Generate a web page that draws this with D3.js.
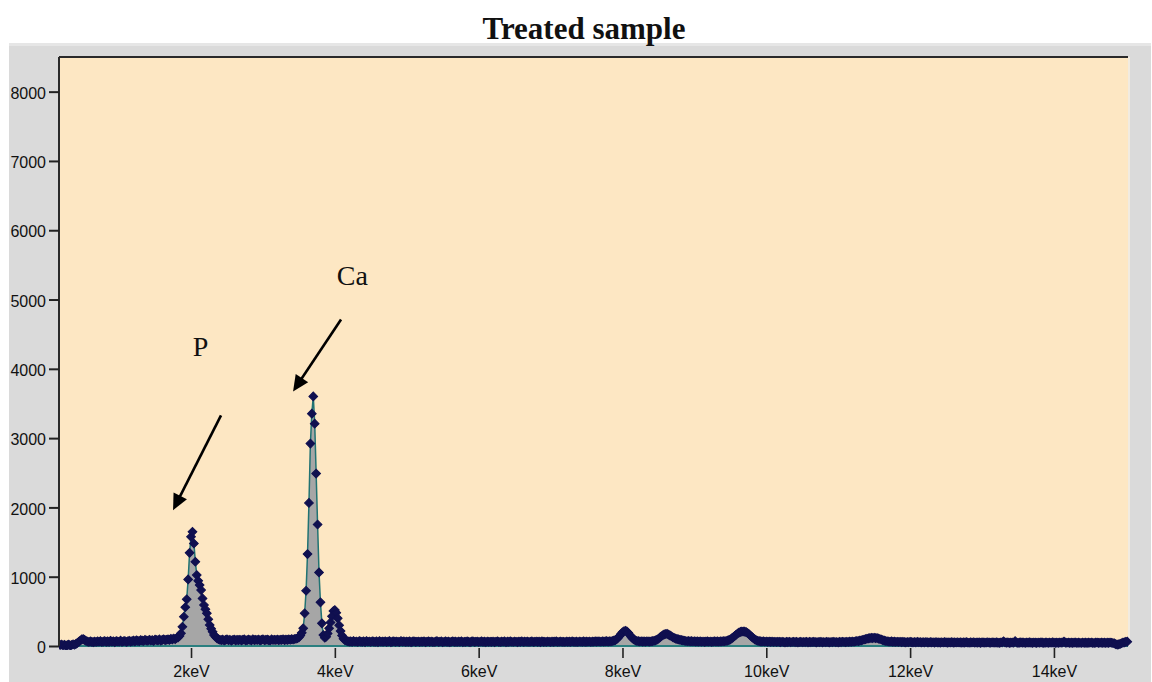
<!DOCTYPE html>
<html><head><meta charset="utf-8">
<script src="https://cdn.jsdelivr.net/npm/d3@7"></script>
<style>html,body{margin:0;padding:0;background:#fff;}svg{display:block;}</style>
</head><body>
<script>
// ---------------- data ----------------
const chartTitle = "Treated sample";
// channel calibration of the spectrum (keV)
const channelStart = 0.18;
const channelWidth = 0.02;
// counts per channel, one row = 25 channels (0.5 keV)
const counts = [
  15,22,10,18,5,12,20,8,15,25,18,30,45,62,80,95,100,88,72,65,58,66,60,55,63,            // 0.18-0.66
  58,66,61,70,57,64,72,60,67,59,74,63,68,56,71,65,62,77,60,69,73,58,66,75,64,           // 0.68-1.16
  70,78,66,82,74,69,85,77,72,88,80,75,90,79,84,73,92,86,81,95,78,89,97,84,91,           // 1.18-1.66
  96,88,102,95,108,100,115,122,145,183,278,422,560,673,961,1344,1575,1647,1480,1215,1023,940,879,807,687, // 1.68-2.16
  591,530,471,385,303,250,206,160,134,112,98,90,85,92,80,88,95,83,90,78,86,93,81,89,84, // 2.18-2.66
  91,82,88,96,79,85,93,87,80,98,84,90,86,94,81,89,97,83,88,92,85,79,95,87,90,           // 2.68-3.16
  86,93,84,91,88,97,85,92,89,96,90,99,94,101,105,112,125,150,190,255,471,797,1326,2065,2921, // 3.18-3.66
  3353,3602,3209,2488,1753,1062,630,327,158,120,135,180,255,340,430,505,519,480,399,300,215,150,105,85,75, // 3.68-4.16
  70,63,67,59,73,62,65,57,71,64,60,68,56,72,61,65,58,69,63,59,66,55,70,62,64,           // 4.18-4.66
  61,67,58,64,70,56,63,68,59,65,61,57,71,62,66,58,64,60,67,55,63,69,59,62,65,           // 4.68-5.16
  58,64,61,67,56,62,68,59,65,60,57,63,70,58,62,66,55,61,67,59,64,56,62,68,60,           // 5.18-5.66
  63,57,65,60,68,56,62,59,66,61,55,64,69,58,62,65,57,61,67,59,63,56,65,60,62,           // 5.68-6.16
  59,65,56,62,68,60,57,64,61,66,55,63,59,67,61,58,65,62,56,64,60,68,57,63,61,           // 6.18-6.66
  64,58,62,66,57,61,65,59,63,56,67,60,62,58,65,61,57,64,59,63,66,58,61,65,60,           // 6.68-7.16
  62,57,65,60,64,58,66,61,59,63,57,65,62,60,67,59,63,61,65,58,64,62,67,63,66,           // 7.18-7.66
  65,61,68,63,66,70,64,69,67,73,77,85,100,120,145,173,197,213,220,211,190,163,135,110,93, // 7.68-8.16
  81,73,70,65,68,63,67,62,69,65,64,68,71,75,81,90,105,123,140,155,167,173,175,165,153,  // 8.18-8.66
  140,127,115,107,100,95,89,85,81,75,72,69,73,67,70,65,68,63,67,62,66,61,65,60,64,      // 8.68-9.16
  67,62,65,60,64,68,63,66,62,67,65,70,68,73,77,85,95,110,127,145,163,180,193,203,208,   // 9.18-9.66
  210,207,200,187,170,150,130,111,95,83,75,70,67,64,68,62,65,60,64,59,63,58,62,57,61,   // 9.68-10.16
  59,55,61,57,53,60,56,62,54,58,61,55,59,53,57,60,54,58,56,61,53,59,55,57,60,           // 10.18-10.66
  56,52,58,55,60,53,57,54,59,56,52,58,55,61,54,57,53,59,56,62,58,55,60,57,63,           // 10.68-11.16
  59,65,61,68,73,70,77,81,87,93,99,105,110,113,117,114,119,113,115,107,101,93,85,78,73, // 11.18-11.66
  69,65,62,67,60,64,58,62,57,61,55,59,56,53,58,54,60,55,52,57,53,59,54,56,51,           // 11.68-12.16
  55,51,57,53,50,56,52,54,49,55,51,53,48,54,50,56,52,49,53,51,55,48,52,50,54,           // 12.18-12.66
  50,53,48,52,49,55,51,47,53,50,54,48,51,49,52,46,53,50,48,51,54,49,47,52,50,           // 12.68-13.16
  48,52,49,46,51,53,67,50,48,52,45,49,51,47,70,50,46,49,52,48,51,45,50,48,53,           // 13.18-13.66
  49,46,51,48,45,50,47,52,48,45,49,51,46,50,47,53,48,45,49,46,51,48,50,63,49,           // 13.68-14.16
  47,50,45,49,46,48,51,45,49,47,44,50,46,48,45,49,47,51,46,44,48,50,45,47,49,           // 14.18-14.66
  46,49,44,48,45,50,47,43,37,27,20,23,30,40,48,53,60,63                                  // 14.68-15.02
];
const xDomain = [0.164, 15.03];
const yDomain = [0, 8500];
const xTicks = [2, 4, 6, 8, 10, 12, 14];
const xTickLabels = ["2keV", "4keV", "6keV", "8keV", "10keV", "12keV", "14keV"];
const yTicks = [0, 1000, 2000, 3000, 4000, 5000, 6000, 7000, 8000];
const yTickLabels = ["0", "1000", "2000", "3000", "4000", "5000", "6000", "7000", "8000"];
const peakLabels = ["P", "Ca"];
const peakLabelX = [2.024, 4.026];      // keV
const peakLabelY = [4179, 5216];        // counts
const arrowFromX = [2.417, 4.086];
const arrowFromY = [3329, 4712];
const arrowToX = [1.75, 3.419];
const arrowToY = [1960, 3674];

// ---------------- drawing ----------------
const W = 1152, H = 682;
const svg = d3.select("body").append("svg").attr("width", W).attr("height", H);

const x = d3.scaleLinear().domain(xDomain).range([59, 1128]);
const y = d3.scaleLinear().domain(yDomain).range([646, 57]);

const data = counts.map((c, i) => ({ e: channelStart + i * channelWidth, c }));

// grey panel
svg.append("rect").attr("x", 9).attr("y", 43).attr("width", 1142).attr("height", H - 43).attr("fill", "#dadada");
svg.append("rect").attr("x", 9).attr("y", 43).attr("width", 1142).attr("height", 3).attr("fill", "#e6e6e6");

// plot background
svg.append("rect")
  .attr("x", x.range()[0]).attr("y", y.range()[1])
  .attr("width", x.range()[1] - x.range()[0]).attr("height", y.range()[0] - y.range()[1])
  .attr("fill", "#fde7c3");
svg.append("line").attr("x1", x.range()[1] + 1).attr("x2", x.range()[1] + 1)
  .attr("y1", y.range()[1]).attr("y2", y.range()[0]).attr("stroke", "#f1ebe0").attr("stroke-width", 2);

// title
svg.append("text").attr("x", 584).attr("y", 39).attr("text-anchor", "middle")
  .attr("font-family", "'Liberation Serif','Times New Roman',serif").attr("font-weight", "bold")
  .attr("font-size", 31).attr("fill", "#111").text(chartTitle);

const plot = svg.append("g");
plot.append("clipPath").attr("id", "clip").append("rect")
  .attr("x", x.range()[0]).attr("y", y.range()[1] - 2)
  .attr("width", x.range()[1] - x.range()[0] + 6).attr("height", y.range()[0] - y.range()[1] + 6);

const area = d3.area().x(d => x(d.e)).y0(y(0)).y1(d => y(d.c));
const line = d3.line().x(d => x(d.e)).y(d => y(d.c));

const g = plot.append("g").attr("clip-path", "url(#clip)");
g.append("path").datum(data).attr("d", area).attr("fill", "#a6a6a6");
g.append("path").datum(data).attr("d", line).attr("fill", "none").attr("stroke", "#217373").attr("stroke-width", 1.5);
g.append("line").attr("x1", x.range()[0]).attr("x2", x.range()[1]).attr("y1", y(0)).attr("y2", y(0))
  .attr("stroke", "#2a7f7f").attr("stroke-width", 2);

const sym = d3.symbol().type(d3.symbolSquare).size(38);
g.append("g").selectAll("path").data(data).join("path")
  .attr("d", sym)
  .attr("transform", d => `translate(${x(d.e)},${y(d.c)}) rotate(45)`)
  .attr("fill", "#101050").attr("stroke", "#101050").attr("stroke-width", 1);

// frame: top and left borders
svg.append("line").attr("x1", x.range()[0]).attr("x2", x.range()[1]).attr("y1", y.range()[1]).attr("y2", y.range()[1])
  .attr("stroke", "#2a2a2a").attr("stroke-width", 2);
svg.append("line").attr("x1", x.range()[0]).attr("x2", x.range()[0]).attr("y1", y.range()[1]).attr("y2", y.range()[0])
  .attr("stroke", "#2a2a2a").attr("stroke-width", 2);

// axes
const fontSans = "'Liberation Sans',Arial,sans-serif";
const yAxis = d3.axisLeft(y).tickValues(yTicks).tickFormat((d, i) => yTickLabels[i]).tickSize(10).tickSizeOuter(0).tickPadding(3);
const yg = svg.append("g").attr("transform", `translate(${x.range()[0]},0)`).call(yAxis);
yg.select(".domain").remove();
yg.selectAll(".tick line").attr("stroke", "#222").attr("stroke-width", 2);
yg.selectAll(".tick text").attr("font-family", fontSans).attr("font-size", 16).attr("fill", "#111").attr("dy", "0.42em");

const xAxis = d3.axisBottom(x).tickValues(xTicks).tickFormat((d, i) => xTickLabels[i]).tickSize(10).tickSizeOuter(0).tickPadding(8);
const xg = svg.append("g").attr("transform", `translate(0,${y(0) + 2})`).call(xAxis);
xg.select(".domain").remove();
xg.selectAll(".tick line").attr("stroke", "#222").attr("stroke-width", 1.6);
xg.selectAll(".tick text").attr("font-family", fontSans).attr("font-size", 16).attr("fill", "#111");

// annotations
const fontSerif = "'Liberation Serif','Times New Roman',serif";
peakLabels.forEach((lab, i) => {
  svg.append("text").attr("x", x(peakLabelX[i])).attr("y", y(peakLabelY[i]))
    .attr("font-family", fontSerif).attr("font-size", 28).attr("fill", "#111").text(lab);
  const x1 = x(arrowFromX[i]), y1 = y(arrowFromY[i]), x2 = x(arrowToX[i]), y2 = y(arrowToY[i]);
  const dx = x2 - x1, dy = y2 - y1, L = Math.hypot(dx, dy), ux = dx / L, uy = dy / L;
  const hl = 16, hw = 7.5;
  const bx = x2 - ux * hl, by = y2 - uy * hl;
  svg.append("line").attr("x1", x1).attr("y1", y1).attr("x2", bx + ux * 2).attr("y2", by + uy * 2)
    .attr("stroke", "#000").attr("stroke-width", 2.6);
  svg.append("path")
    .attr("d", `M${x2},${y2}L${bx - uy * hw},${by + ux * hw}L${bx + uy * hw},${by - ux * hw}Z`)
    .attr("fill", "#000");
});
</script>
</body></html>
